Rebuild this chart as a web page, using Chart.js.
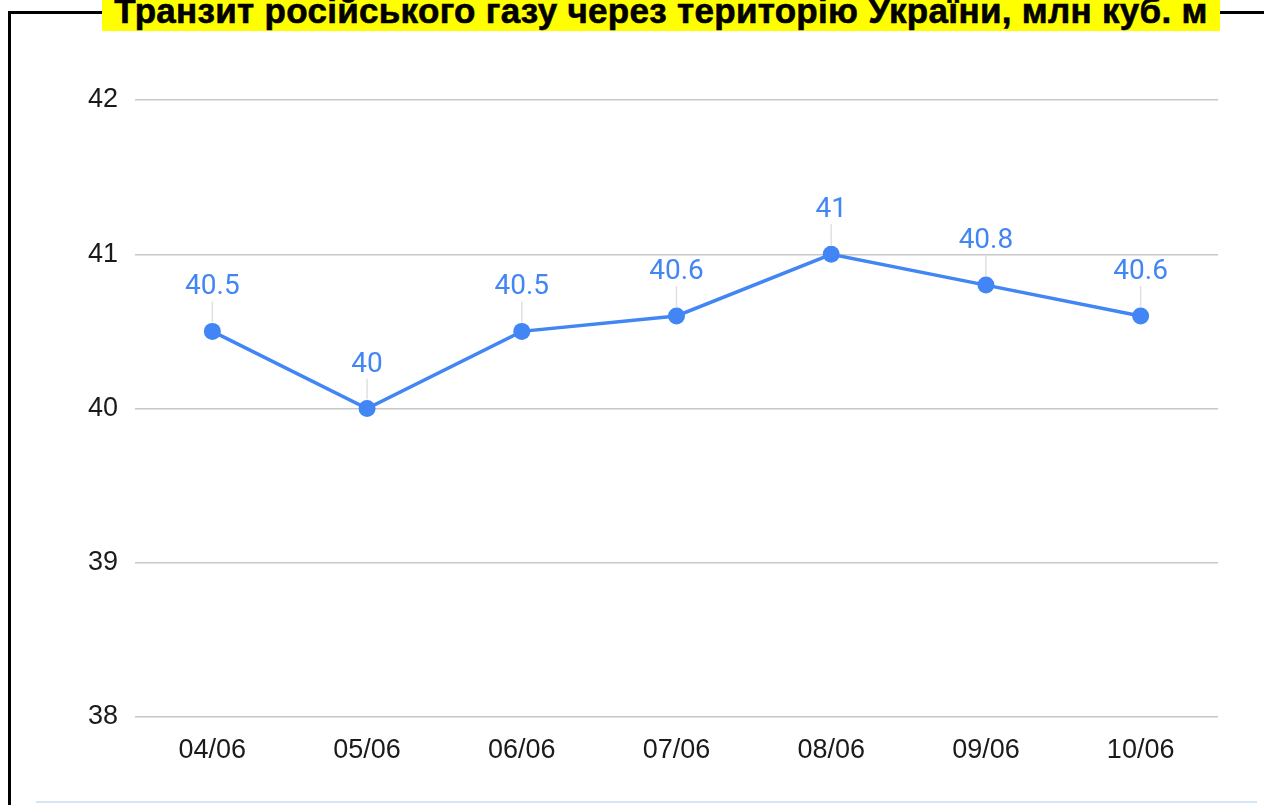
<!DOCTYPE html>
<html>
<head>
<meta charset="utf-8">
<script src="https://cdn.jsdelivr.net/npm/chart.js@4"></script>
<style>
  html, body { margin: 0; padding: 0; background: #fff; overflow: hidden; }
  body { width: 1264px; height: 805px; position: relative; }
  #frame {
    position: absolute; left: 8px; top: 11px; width: 1400px; height: 900px;
    border: 3px solid #000; box-sizing: border-box;
  }
  #title {
    position: absolute; left: 102px; top: 0; width: 1118px; height: 31px;
    background: #ffff00; color: #000;
    font: bold 35px "Liberation Sans", Arial, sans-serif;
    letter-spacing: 0.3px;
    -webkit-text-stroke: 0.6px #000;
    line-height: 31px; text-align: center; white-space: nowrap; overflow: hidden;
  }
  #title span { position: relative; top: -5px; }
  #foot {
    position: absolute; left: 36px; top: 801px; width: 1221px; height: 2px;
    background: #d6e6f5;
  }
  #wrap { position: absolute; left: 0; top: 0; width: 1264px; height: 805px; }
</style>
</head>
<body>
<div id="frame"></div>
<div id="wrap"><canvas id="chart"></canvas></div>
<div id="title"><span>Транзит російського газу через територію України, млн куб. м</span></div>
<div id="foot"></div>
<script>
const dates = ['04/06', '05/06', '06/06', '07/06', '08/06', '09/06', '10/06'];
const transit = [40.5, 40, 40.5, 40.6, 41, 40.8, 40.6];
const yTicks = [38, 39, 40, 41, 42];

const pointLabels = {
  id: 'pointLabels',
  afterDatasetsDraw(chart) {
    const ctx = chart.ctx;
    const meta = chart.getDatasetMeta(0);
    ctx.save();
    meta.data.forEach((pt, i) => {
      ctx.strokeStyle = '#e0e0e0';
      ctx.lineWidth = 1.5;
      ctx.beginPath();
      ctx.moveTo(pt.x, pt.y - 9);
      ctx.lineTo(pt.x, pt.y - 30);
      ctx.stroke();
      ctx.fillStyle = '#4285f4';
      ctx.font = '28px Roboto, "Liberation Sans", sans-serif';
      ctx.textAlign = 'center';
      ctx.textBaseline = 'middle';
      ctx.fillText(String(transit[i]), pt.x, pt.y - 44);
    });
    ctx.restore();
  }
};

new Chart(document.getElementById('chart'), {
  type: 'line',
  data: {
    labels: dates,
    datasets: [{
      data: transit,
      borderColor: '#4285f4',
      backgroundColor: '#4285f4',
      borderWidth: 3.5,
      pointRadius: 8.5,
      pointHoverRadius: 8.5,
      pointBackgroundColor: '#4285f4',
      pointBorderWidth: 0,
      tension: 0
    }]
  },
  options: {
    responsive: true,
    maintainAspectRatio: false,
    animation: false,
    layout: { padding: { top: 100, right: 46, left: 0, bottom: 0 } },
    plugins: { legend: { display: false }, tooltip: { enabled: false } },
    scales: {
      x: {
        offset: true,
        grid: { display: false, drawTicks: false },
        border: { display: false },
        ticks: {
          color: '#1a1a1a',
          padding: 17,
          font: { family: '"Liberation Sans", Arial, sans-serif', size: 27 }
        },
        afterFit(s) { s.height = 88; }
      },
      y: {
        min: 38,
        max: 42,
        afterBuildTicks(s) { s.ticks = yTicks.map(v => ({ value: v })); },
        grid: { color: '#c8c8c8', lineWidth: 1.5, drawTicks: false },
        border: { display: false },
        ticks: {
          color: '#1a1a1a',
          padding: 17,
          font: { family: '"Liberation Sans", Arial, sans-serif', size: 27 }
        },
        afterFit(s) { s.width = 135; }
      }
    }
  },
  plugins: [pointLabels]
});
</script>
</body>
</html>
